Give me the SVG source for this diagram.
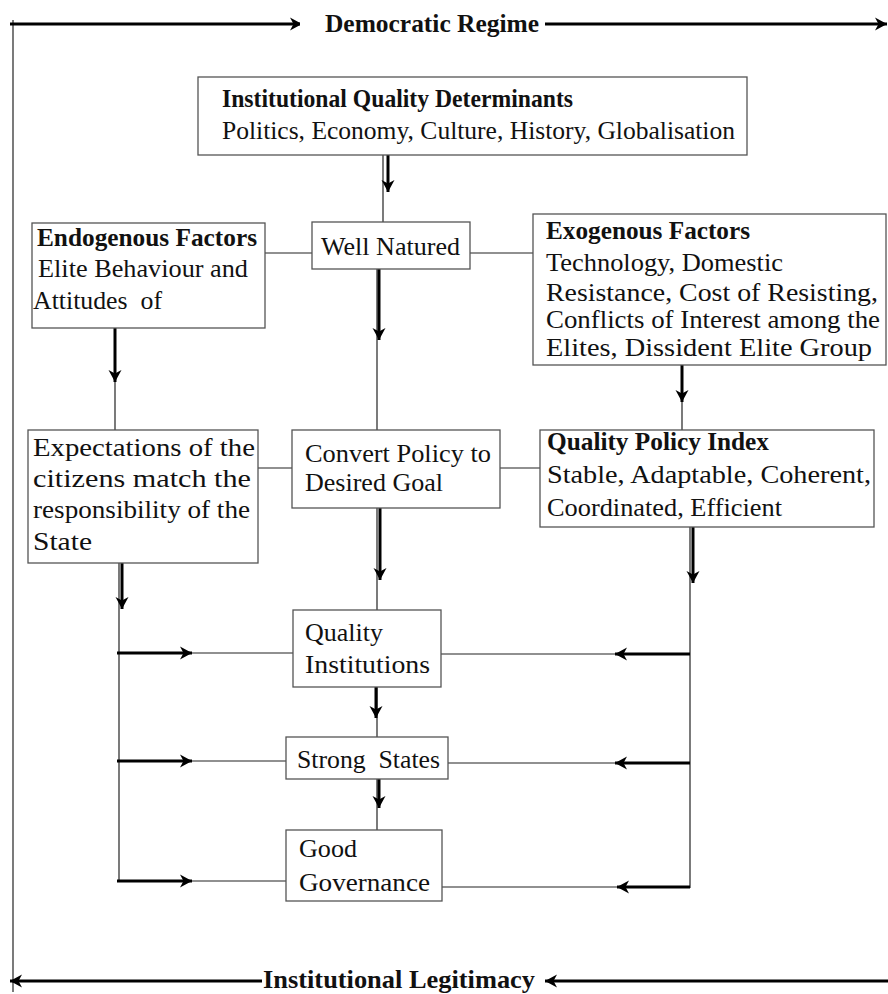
<svg xmlns="http://www.w3.org/2000/svg" width="888" height="994" viewBox="0 0 888 994">
<style>
.box{fill:#fff;stroke:#555;stroke-width:1.3}
.t{font-family:"Liberation Serif","Times New Roman",serif;font-size:26px;fill:#111}
.b{font-weight:bold;font-size:25px}
.thin{stroke:#222;stroke-width:1.2;fill:none}
.thick{stroke:#000;stroke-width:3;fill:none;marker-end:url(#ah)}
</style>
<defs>
<marker id="ah" markerUnits="userSpaceOnUse" markerWidth="16" markerHeight="16" refX="12" refY="8" orient="auto">
<path d="M0,1.5 L12,8 L0,14.5 L3.5,8 Z" fill="#000"/>
</marker>
</defs>
<rect width="888" height="994" fill="#fff"/>

<g id="connectors">
<line class="thin" x1="13" y1="20" x2="13" y2="992"/>
<line class="thick" x1="10" y1="24" x2="302" y2="24"/>
<line class="thick" x1="545" y1="24" x2="887" y2="24"/>
<line class="thick" x1="262" y1="981" x2="10" y2="981"/>
<line class="thick" x1="888" y1="981" x2="545" y2="981"/>
<line class="thin" x1="383" y1="155" x2="383" y2="222"/>
<line class="thick" x1="388" y1="150" x2="388" y2="192"/>
<line class="thin" x1="265" y1="253" x2="312" y2="253"/>
<line class="thin" x1="470" y1="253" x2="533" y2="253"/>
<line class="thin" x1="258" y1="468" x2="292" y2="468"/>
<line class="thin" x1="500" y1="468" x2="540" y2="468"/>
<line class="thin" x1="377" y1="269" x2="377" y2="430"/>
<line class="thick" x1="379" y1="269" x2="379" y2="340"/>
<line class="thin" x1="115" y1="328" x2="115" y2="430"/>
<line class="thick" x1="115" y1="328" x2="115" y2="382"/>
<line class="thin" x1="682" y1="365" x2="682" y2="430"/>
<line class="thick" x1="682" y1="365" x2="682" y2="402"/>
<line class="thin" x1="377" y1="508" x2="377" y2="610"/>
<line class="thick" x1="380" y1="508" x2="380" y2="580"/>
<line class="thin" x1="119" y1="563" x2="119" y2="881"/>
<line class="thick" x1="122" y1="563" x2="122" y2="609"/>
<line class="thin" x1="690" y1="527" x2="690" y2="888"/>
<line class="thick" x1="693" y1="527" x2="693" y2="583"/>
<line class="thin" x1="117" y1="653" x2="293" y2="653"/>
<line class="thick" x1="117" y1="653" x2="192" y2="653"/>
<line class="thin" x1="117" y1="761" x2="286" y2="761"/>
<line class="thick" x1="117" y1="761" x2="192" y2="761"/>
<line class="thin" x1="117" y1="881" x2="286" y2="881"/>
<line class="thick" x1="117" y1="881" x2="192" y2="881"/>
<line class="thin" x1="441" y1="654" x2="690" y2="654"/>
<line class="thick" x1="690" y1="654" x2="615" y2="654"/>
<line class="thin" x1="448" y1="763" x2="690" y2="763"/>
<line class="thick" x1="690" y1="763" x2="615" y2="763"/>
<line class="thin" x1="442" y1="887" x2="690" y2="887"/>
<line class="thick" x1="690" y1="887" x2="617" y2="887"/>
<line class="thin" x1="377" y1="687" x2="377" y2="737"/>
<line class="thick" x1="376" y1="687" x2="376" y2="718"/>
<line class="thin" x1="377" y1="779" x2="377" y2="830"/>
<line class="thick" x1="379" y1="779" x2="379" y2="808"/>
</g>

<rect x="300" y="6" width="245" height="34" fill="#fff"/>
<text class="t b" x="325" y="32" textLength="214" lengthAdjust="spacingAndGlyphs">Democratic Regime</text>
<rect x="262" y="964" width="283" height="30" fill="#fff"/>
<text class="t b" x="263" y="988" textLength="272" lengthAdjust="spacingAndGlyphs">Institutional Legitimacy</text>

<g id="determinants">
<rect class="box" x="198" y="77" width="549" height="78"/>
<text class="t b" x="222" y="107" textLength="351" lengthAdjust="spacingAndGlyphs">Institutional Quality Determinants</text>
<text class="t" x="222" y="139" textLength="513" lengthAdjust="spacingAndGlyphs">Politics, Economy, Culture, History, Globalisation</text>
</g>

<g id="endogenous">
<rect class="box" x="32" y="223" width="233" height="105"/>
<text class="t b" x="37" y="246" textLength="220" lengthAdjust="spacingAndGlyphs">Endogenous Factors</text>
<text class="t" x="38" y="277" textLength="210" lengthAdjust="spacingAndGlyphs">Elite Behaviour and</text>
<text class="t" x="33" y="309" xml:space="preserve" textLength="129" lengthAdjust="spacingAndGlyphs">Attitudes  of</text>
</g>

<g id="wellnatured">
<rect class="box" x="312" y="222" width="158" height="47"/>
<text class="t" x="321" y="255" textLength="139" lengthAdjust="spacingAndGlyphs">Well Natured</text>
</g>

<g id="exogenous">
<rect class="box" x="533" y="214" width="353" height="151"/>
<text class="t b" x="546" y="239" textLength="204" lengthAdjust="spacingAndGlyphs">Exogenous Factors</text>
<text class="t" x="546" y="271" textLength="237" lengthAdjust="spacingAndGlyphs">Technology, Domestic</text>
<text class="t" x="546" y="301" textLength="332" lengthAdjust="spacingAndGlyphs">Resistance, Cost of Resisting,</text>
<text class="t" x="546" y="328" textLength="334" lengthAdjust="spacingAndGlyphs">Conflicts of Interest among the</text>
<text class="t" x="546" y="356" textLength="326" lengthAdjust="spacingAndGlyphs">Elites, Dissident Elite Group</text>
</g>

<g id="expectations">
<rect class="box" x="28" y="430" width="230" height="133"/>
<text class="t" x="33" y="456" textLength="222" lengthAdjust="spacingAndGlyphs">Expectations of the</text>
<text class="t" x="33" y="487" textLength="218" lengthAdjust="spacingAndGlyphs">citizens match the</text>
<text class="t" x="33" y="518" textLength="217" lengthAdjust="spacingAndGlyphs">responsibility of the</text>
<text class="t" x="33" y="550" textLength="59" lengthAdjust="spacingAndGlyphs">State</text>
</g>

<g id="convert">
<rect class="box" x="292" y="430" width="208" height="78"/>
<text class="t" x="305" y="462" textLength="186" lengthAdjust="spacingAndGlyphs">Convert Policy to</text>
<text class="t" x="305" y="491" textLength="138" lengthAdjust="spacingAndGlyphs">Desired Goal</text>
</g>

<g id="qpi">
<rect class="box" x="540" y="430" width="334" height="97"/>
<text class="t b" x="547" y="450" textLength="222" lengthAdjust="spacingAndGlyphs">Quality Policy Index</text>
<text class="t" x="547" y="483" textLength="324" lengthAdjust="spacingAndGlyphs">Stable, Adaptable, Coherent,</text>
<text class="t" x="547" y="516" textLength="235" lengthAdjust="spacingAndGlyphs">Coordinated, Efficient</text>
</g>

<g id="qualityinst">
<rect class="box" x="293" y="610" width="148" height="77"/>
<text class="t" x="305" y="641" textLength="78" lengthAdjust="spacingAndGlyphs">Quality</text>
<text class="t" x="305" y="673" textLength="125" lengthAdjust="spacingAndGlyphs">Institutions</text>
</g>

<g id="strongstates">
<rect class="box" x="286" y="737" width="162" height="42"/>
<text class="t" x="297" y="768" xml:space="preserve" textLength="143" lengthAdjust="spacingAndGlyphs">Strong  States</text>
</g>

<g id="goodgov">
<rect class="box" x="286" y="830" width="156" height="71"/>
<text class="t" x="299" y="857" textLength="58" lengthAdjust="spacingAndGlyphs">Good</text>
<text class="t" x="299" y="891" textLength="131" lengthAdjust="spacingAndGlyphs">Governance</text>
</g>
</svg>
